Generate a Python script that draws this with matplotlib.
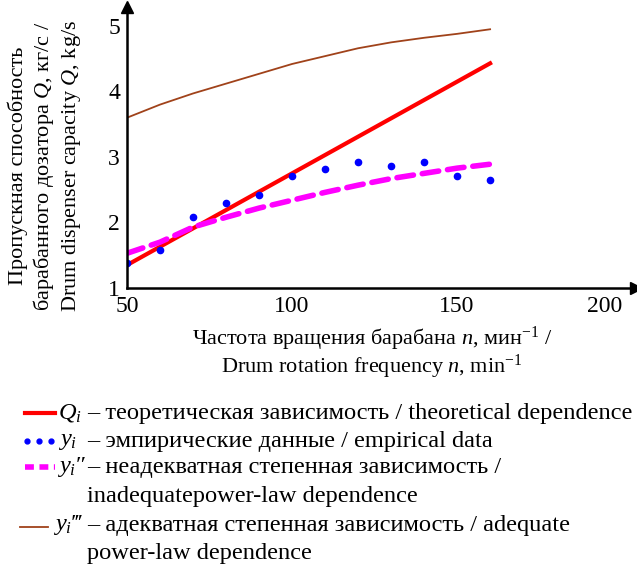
import matplotlib
matplotlib.use("Agg")
import matplotlib.pyplot as plt

plt.rcParams['font.family'] = ['Liberation Serif', 'DejaVu Serif']
plt.rcParams['mathtext.fontset'] = 'custom'
plt.rcParams['mathtext.rm'] = 'Liberation Serif'
plt.rcParams['mathtext.it'] = 'Liberation Serif:italic'

# drum rotation frequency, min^-1
n = [50, 60, 70, 80, 90, 100, 110, 120, 130, 140, 150, 160]
# theoretical dependence Q_i
q_theory = [1.35, 1.63, 1.91, 2.19, 2.47, 2.75, 3.03, 3.31, 3.59, 3.87, 4.15, 4.43]
# empirical data y_i
y_emp = [1.38, 1.58, 2.08, 2.30, 2.42, 2.71, 2.82, 2.92, 2.86, 2.92, 2.71, 2.65]
# inadequate power-law y_i''
y_inad = [1.53, 1.70, 1.93, 2.08, 2.22, 2.34, 2.46, 2.57, 2.67, 2.75, 2.83, 2.89]
# adequate power-law y_i'''
y_adeq = [3.60, 3.80, 3.97, 4.12, 4.27, 4.42, 4.54, 4.66, 4.75, 4.82, 4.88, 4.95]

xticks = [50, 100, 150, 200]
yticks = [1, 2, 3, 4, 5]

W, H = 637, 569
fig = plt.figure(figsize=(W / 100, H / 100), dpi=100)
ax = fig.add_axes([127 / W, (H - 288) / H, (636 - 127) / W, (288 - 7) / H])

ax.plot(n, y_adeq, color='#a0421a', lw=1.3)
ax.plot(n, q_theory, color='#ff0000', lw=3)
ax.plot(n, y_inad, color='#ff00ff', lw=4, dashes=(3, 1.6), dash_capstyle='round')
ax.plot(n, y_emp, 'o', color='#0000ff', ms=4.5, ls='none')

ax.set_xlim(50, 204.2)
ax.set_ylim(1, 5.29)
ax.set_xticks(xticks)
ax.set_yticks(yticks)
ax.tick_params(length=0, labelsize=17)
ax.tick_params(axis='x', pad=6)
ax.tick_params(axis='y', pad=5)
ax.get_xticklabels()[-1].set_ha('right')
for s in ['top', 'right']:
    ax.spines[s].set_visible(False)
for s in ['left', 'bottom']:
    ax.spines[s].set_linewidth(1.8)
ax.plot(1, 0, '>k', ms=9, transform=ax.transAxes, clip_on=False)
ax.plot(0, 1, '^k', ms=9, transform=ax.transAxes, clip_on=False)

fig.text(45 / W, 1 - 166 / H,
         'Пропускная способность\nбарабанного дозатора $Q$, кг/с /\nDrum dispenser capacity $Q$, kg/s',
         rotation=90, ha='center', va='center', multialignment='center', fontsize=16,
         linespacing=1.2)
fig.text(372 / W, 1 - 353 / H,
         'Частота вращения барабана $n$, мин$^{-1}$ /\nDrum rotation frequency $n$, min$^{-1}$',
         ha='center', va='center', multialignment='center', fontsize=16, linespacing=1.0)

# legend drawn in pixel coordinates
lax = fig.add_axes([0, 0, 1, 1])
lax.set_xlim(0, W)
lax.set_ylim(H, 0)
lax.axis('off')
lax.plot([25, 55], [413, 413], color='#ff0000', lw=3)
lax.plot([27, 39, 51], [441, 441, 441], 'o', color='#0000ff', ms=3.5)
lax.plot([25, 55], [467, 467], color='#ff00ff', lw=4, dashes=(1.6, 1.0))
lax.plot([20, 48], [527, 527], color='#a0421a', lw=1.3)
fs = 17.6
lax.text(58, 413, '$Q_i$', fontsize=fs, va='center')
lax.text(87, 413, '– теоретическая зависимость / theoretical dependence', fontsize=fs, va='center')
lax.text(58, 441, '$y_i$', fontsize=fs, va='center')
lax.text(87, 441, '– эмпирические данные / empirical data', fontsize=fs, va='center')
lax.text(57, 467, '$y_i$″', fontsize=fs, va='center')
lax.text(87, 467, '– неадекватная степенная зависимость /', fontsize=fs, va='center')
lax.text(87, 496, 'inadequatepower-law dependence', fontsize=fs, va='center')
lax.text(53, 525, '$y_i$‴', fontsize=fs, va='center')
lax.text(87, 525, '– адекватная степенная зависимость / adequate', fontsize=fs, va='center')
lax.text(87, 553, 'power-law dependence', fontsize=fs, va='center')

fig.savefig('out.png', dpi=100)
